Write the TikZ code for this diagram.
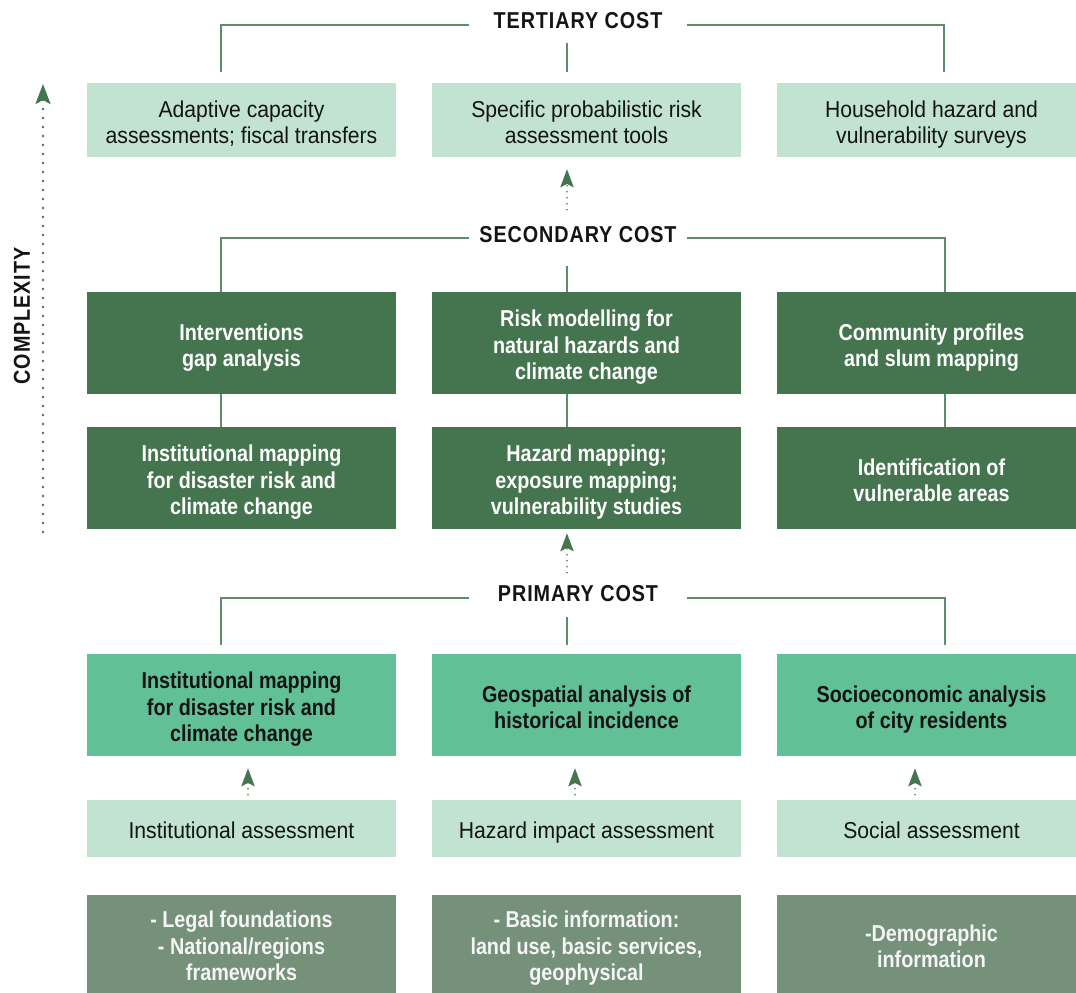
\documentclass[tikz,border=0pt]{standalone}
\usepackage{fontspec}
\setmainfont{Liberation Sans}[FakeStretch=0.92,BoldFeatures={FakeStretch=0.86}]
\usepackage{tikz}
\usetikzlibrary{arrows.meta,positioning,calc}
\definecolor{pale}{RGB}{194,226,210}
\definecolor{forest}{RGB}{68,117,79}
\definecolor{mint}{RGB}{98,192,150}
\definecolor{sage}{RGB}{117,145,122}
\definecolor{trazo}{RGB}{94,140,108}
\definecolor{tinta}{RGB}{20,20,20}

\begin{document}
\begin{tikzpicture}[x=0.75pt,y=-0.75pt,
  celda/.style={rectangle,minimum width=231.75pt,inner sep=0pt,align=center,font=\fontsize{17.25pt}{19.9pt}\selectfont,
    text height=19.5pt,text depth=4pt},
  dos/.style={text height=39.4pt},
  tres/.style={text height=59.3pt},
  claro/.style={celda,fill=pale,text=tinta},
  oscuro/.style={celda,fill=forest,text=white,font=\fontsize{17.25pt}{19.9pt}\selectfont\bfseries},
  medio/.style={celda,fill=mint,text=tinta,font=\fontsize{17.25pt}{19.9pt}\selectfont\bfseries},
  gris/.style={celda,fill=sage,text=white!96!black,font=\fontsize{17.25pt}{19.9pt}\selectfont\bfseries},
  costo/.style={minimum width=163.5pt,inner sep=0pt,text=tinta,font=\fontsize{17.25pt}{19.9pt}\selectfont\bfseries\addfontfeatures{LetterSpace=4}},
  guia/.style={draw=trazo,line width=1.5pt},
  subida/.style={draw=forest,line width=1.4pt,line cap=round,dash pattern=on 0pt off 4.5pt,-{Stealth[length=13.5pt,width=10pt,inset=2.5pt]}}]
\useasboundingbox (0,0) rectangle (1076,993);

% tertiary row
\node[claro,dos,minimum height=55.5pt] (t1) at (241.5,120) {Adaptive capacity\\assessments; fiscal transfers};
\node[claro,dos,minimum height=55.5pt] (t2) at (586.5,120) {Specific probabilistic risk\\assessment tools};
\node[claro,dos,minimum height=55.5pt] (t3) at (931.5,120) {Household hazard and\\vulnerability surveys};

% secondary rows
\node[oscuro,dos,minimum height=76.5pt] (s1) at (241.5,343) {Interventions\\gap analysis};
\node[oscuro,tres,minimum height=76.5pt] (s2) at (586.5,343) {Risk modelling for\\natural hazards and\\climate change};
\node[oscuro,dos,minimum height=76.5pt] (s3) at (931.5,343) {Community profiles\\and slum mapping};
\node[oscuro,tres,minimum height=76.5pt] (r1) at (241.5,478) {Institutional mapping\\for disaster risk and\\climate change};
\node[oscuro,tres,minimum height=76.5pt] (r2) at (586.5,478) {Hazard mapping;\\exposure mapping;\\vulnerability studies};
\node[oscuro,dos,minimum height=76.5pt] (r3) at (931.5,478) {Identification of\\vulnerable areas};

% primary row
\node[medio,tres,minimum height=76.5pt] (p1) at (241.5,705) {Institutional mapping\\for disaster risk and\\climate change};
\node[medio,dos,minimum height=76.5pt] (p2) at (586.5,705) {Geospatial analysis of\\historical incidence};
\node[medio,dos,minimum height=76.5pt] (p3) at (931.5,705) {Socioeconomic analysis\\of city residents};

% assessments and inputs
\node[claro,minimum height=42.75pt] (a1) at (241.5,828.5) {Institutional assessment};
\node[claro,minimum height=42.75pt] (a2) at (586.5,828.5) {Hazard impact assessment};
\node[claro,minimum height=42.75pt] (a3) at (931.5,828.5) {Social assessment};
\node[gris,tres,minimum height=73.5pt] (b1) at (241.5,944) {- Legal foundations\\- National/regions\\frameworks};
\node[gris,tres,minimum height=73.5pt] (b2) at (586.5,944) {- Basic information:\\land use, basic services,\\geophysical};
\node[gris,dos,minimum height=73.5pt] (b3) at (931.5,944) {-Demographic\\information};

% cost labels
\node[costo] (tc) at (578,21) {TERTIARY COST};
\node[costo] (sc) at (578,234.5) {SECONDARY COST};
\node[costo] (pc) at (578,594) {PRIMARY COST};

\draw[guia] ($(tc.west)+(0,4)$) -| ($(t1.north)+(-20.5,-11)$);
\draw[guia] ($(tc.east)+(0,4)$) -| ($(t3.north)+(12.5,-11)$);
\draw[guia] ($(t2.north)+(-19.5,-11)$) -- ++(0,-29);

\draw[guia] ($(sc.west)+(0,3.5)$) -| ($(s1.north)+(-20.5,0)$);
\draw[guia] ($(sc.east)+(0,3.5)$) -| ($(s3.north)+(13,0)$);
\draw[guia] ($(s2.north)+(-19.5,0)$) -- ++(0,-26);

\draw[guia] ($(pc.west)+(0,4)$) -| ($(p1.north)+(-20.5,-9)$);
\draw[guia] ($(pc.east)+(0,4)$) -| ($(p3.north)+(13.5,-9)$);
\draw[guia] ($(p2.north)+(-19.5,-9)$) -- ++(0,-28);

\draw[guia] ($(s1.south)+(-20.5,0)$) -- ($(r1.north)+(-20.5,0)$);
\draw[guia] ($(s2.south)+(-19.5,0)$) -- ($(r2.north)+(-19.5,0)$);
\draw[guia] ($(s3.south)+(13,0)$) -- ($(r3.north)+(13,0)$);

% dotted arrows
\draw[subida] ($(s2.north)+(-19.5,-82)$) -- ($(t2.south)+(-19.5,12)$);
\draw[subida] ($(p2.north)+(-19.5,-81)$) -- ($(r2.south)+(-19.5,4)$);
\draw[subida] ($(a1.north)+(6.5,-5)$) -- ($(p1.south)+(6.5,12)$);
\draw[subida] ($(a2.north)+(-11.5,-5)$) -- ($(p2.south)+(-11.5,12)$);
\draw[subida] ($(a3.north)+(-16.5,-5)$) -- ($(p3.south)+(-16.5,12)$);

% complexity
\coordinate (cx0) at (43,532);
\coordinate (cx1) at (43,84);
\draw[subida,line width=2.2pt,dash pattern=on 0pt off 6.75pt,-{Stealth[length=15pt,width=11.25pt,inset=3pt]}] (cx0) -- (cx1);
\node[rotate=90,text=tinta,font=\fontsize{17.25pt}{19.9pt}\selectfont\bfseries\addfontfeatures{LetterSpace=4}] (cx) at (22,316) {COMPLEXITY};
\end{tikzpicture}
\end{document}
